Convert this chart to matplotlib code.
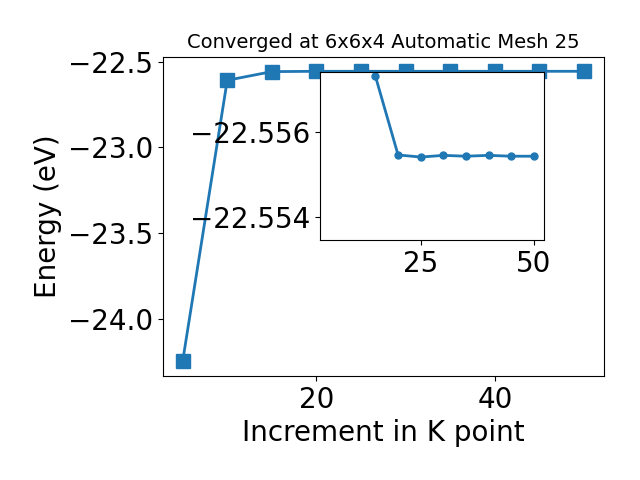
import matplotlib
matplotlib.use("Agg")
import matplotlib.pyplot as plt

# k-point increment and total energies (eV)
kpts = [5, 10, 15, 20, 25, 30, 35, 40, 45, 50]
energy = [-24.25, -22.608, -22.5573, -22.55545, -22.55540, -22.55544,
          -22.55542, -22.55544, -22.55542, -22.55542]

fig = plt.figure(figsize=(6.4, 4.8), dpi=100)
ax = fig.add_axes([0.254, 0.2167, 0.69, 0.665])
ax.plot(kpts, energy, "s-", color="#1f77b4", markersize=10, linewidth=2)
ax.set_xlabel("Increment in K point", fontsize=20)
ax.set_ylabel("Energy (eV)", fontsize=20)
ax.set_title("Converged at 6x6x4 Automatic Mesh 25", fontsize=14)
ax.set_xticks([20, 40])
ax.tick_params(labelsize=20)

# zoomed inset, converged region only
ins = fig.add_axes([0.5, 0.5, 0.35, 0.35])
ins.plot(kpts[2:], energy[2:], "o-", color="#1f77b4", markersize=5, linewidth=2)
ins.set_xlim(ax.get_xlim())
ins.set_ylim(-22.55345, -22.5574)
ins.set_yticks([-22.556, -22.554])
ins.set_xticks([25, 50])
ins.ticklabel_format(axis="y", useOffset=False)
ins.tick_params(labelsize=20)

fig.savefig("out.png", dpi=100)
